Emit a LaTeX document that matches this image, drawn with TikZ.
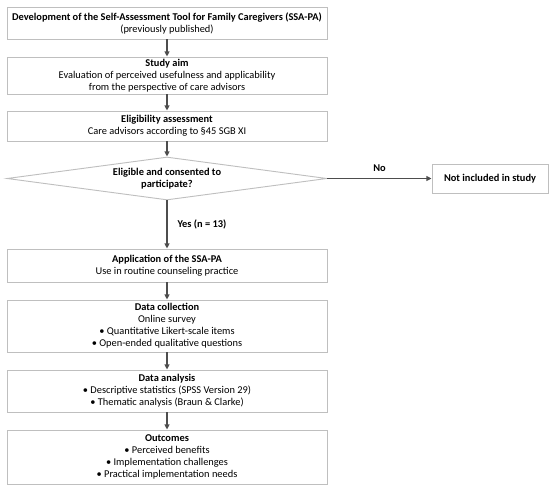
\documentclass[tikz,border=0pt]{standalone}
\usepackage{fontspec}
\setmainfont{Carlito}
\usetikzlibrary{arrows.meta,shapes.geometric}
\definecolor{boxgray}{HTML}{BFBFBF}
\definecolor{arrgray}{HTML}{4D4D4D}
\begin{document}
\begin{tikzpicture}[x=0.75pt,y=-0.75pt,
  txt/.style={font=\fontsize{7.8}{9}\selectfont, text=black},
  box/.style={txt, draw=boxgray, line width=0.7pt, minimum width=240pt, align=center, inner sep=0pt},
  arr/.style={draw=arrgray, line width=0.85pt, -{Triangle[length=3.8pt,width=3.6pt]}},
  lbl/.style={txt, font=\fontsize{7.8}{9}\selectfont\bfseries}]
\useasboundingbox (0,0) rectangle (550,489);
\node[box, minimum height=24pt] (b1) at (167,23)
  {\textbf{Development of the Self-Assessment Tool for Family Caregivers (SSA-PA)}\\(previously published)};
\node[box, minimum height=27.75pt] (b2) at (167,75.5)
  {\textbf{Study aim}\\Evaluation of perceived usefulness and applicability\\from the perspective of care advisors};
\node[box, minimum height=22.5pt] (b3) at (167,126)
  {\textbf{Eligibility assessment}\\Care advisors according to §45 SGB XI};
\node[diamond, draw=boxgray, line width=0.7pt, minimum width=240pt, minimum height=32.25pt, inner sep=0pt] (d) at (167,178.5) {};
\node[lbl, align=center] (dt) at (d) {Eligible and consented to\\participate?};
\node[box, minimum width=87pt, minimum height=21.75pt] (b0) at (490,178.5) {\textbf{Not included in study}};
\node[box, minimum height=24.75pt] (b4) at (167,265.5)
  {\textbf{Application of the SSA-PA}\\Use in routine counseling practice};
\node[box, minimum height=39pt] (b5) at (167,326)
  {\textbf{Data collection}\\Online survey\\• Quantitative Likert-scale items\\• Open-ended qualitative questions};
\node[box, minimum height=31.5pt] (b6) at (167,391)
  {\textbf{Data analysis}\\• Descriptive statistics (SPSS Version 29)\\• Thematic analysis (Braun \& Clarke)};
\node[box, minimum height=40.5pt] (b7) at (167,457)
  {\textbf{Outcomes}\\• Perceived benefits\\• Implementation challenges\\• Practical implementation needs};
\draw[arr] (b1) -- (b2);
\draw[arr] (b2) -- (b3);
\draw[arr] (b3) -- (d);
\draw[arr] (d.south) -- (b4) node[lbl, midway, anchor=west, inner sep=0pt, xshift=7.5pt] {Yes (n = 13)};
\draw[arr] (d.east) -- (b0) node[lbl, midway, anchor=south, inner sep=0pt, yshift=4.8pt] {No};
\draw[arr] (b4) -- (b5);
\draw[arr] (b5) -- (b6);
\draw[arr] (b6) -- (b7);
\end{tikzpicture}
\end{document}
